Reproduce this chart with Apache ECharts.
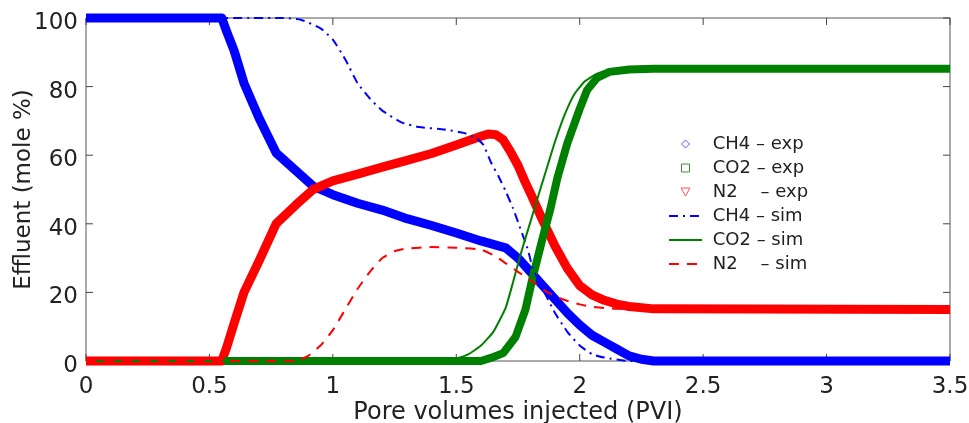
<!DOCTYPE html>
<html>
<head>
<meta charset="utf-8">
<script src="https://cdn.jsdelivr.net/npm/echarts@6/dist/echarts.min.js"></script>
<style>
html,body{margin:0;padding:0;background:#fff;}
#chart{width:969px;height:423px;}
</style>
</head>
<body>
<div id="chart"></div>
<script>
// ---- data ----
const xTicks = [0, 0.5, 1, 1.5, 2, 2.5, 3, 3.5];
const yTicks = [0, 20, 40, 60, 80, 100];

const seriesNames = ['CH4 – exp', 'CO2 – exp', 'N2    – exp', 'CH4 – sim', 'CO2 – sim', 'N2    – sim'];

const ch4ExpX = [0, 0.55, 0.57, 0.6, 0.64, 0.7, 0.77, 0.85, 0.92, 1.0, 1.1, 1.2, 1.3, 1.4, 1.5, 1.6, 1.7, 1.75, 1.8, 1.85, 1.9, 1.95, 2.0, 2.05, 2.1, 2.15, 2.2, 2.25, 2.3, 3.5];
const ch4ExpY = [100, 100, 96, 90.5, 81, 71, 60.7, 55.5, 51, 48.5, 46, 44, 41.5, 39.5, 37.3, 35, 33, 30, 26, 22, 18, 14, 10.5, 7.5, 5.5, 3.5, 1.5, 0.5, 0, 0];

const n2ExpX = [0, 0.55, 0.57, 0.6, 0.64, 0.7, 0.77, 0.85, 0.92, 1.0, 1.1, 1.2, 1.3, 1.4, 1.5, 1.6, 1.63, 1.66, 1.69, 1.72, 1.75, 1.78, 1.8, 1.85, 1.9, 1.95, 2.0, 2.05, 2.1, 2.15, 2.2, 2.3, 3.5];
const n2ExpY = [0, 0, 4, 11, 20, 29, 40, 45.5, 50, 52.5, 54.5, 56.5, 58.5, 60.5, 63, 65.5, 66.2, 66, 64.5, 61, 57, 52, 49, 41, 33.5, 27, 22, 19.3, 17.7, 16.6, 15.9, 15.2, 15];

const co2ExpX = [0.56, 1.6, 1.64, 1.69, 1.74, 1.78, 1.81, 1.845, 1.88, 1.91, 1.95, 2.0, 2.03, 2.07, 2.12, 2.2, 2.3, 3.5];
const co2ExpY = [0, 0, 0.9, 2.3, 7, 15, 24.5, 34.5, 44, 53.5, 63.5, 73.5, 79, 82.5, 84.3, 85, 85.2, 85.2];

const ch4SimX = [0, 0.8, 0.87, 0.95, 1.0, 1.05, 1.1, 1.15, 1.2, 1.28, 1.35, 1.45, 1.53, 1.58, 1.61, 1.64, 1.67, 1.7, 1.73, 1.76, 1.79, 1.81, 1.85, 1.9, 1.95, 2.0, 2.05, 2.1, 2.2, 3.5];
const ch4SimY = [100, 100, 99.5, 97, 93.7, 88, 81, 76.5, 73, 69.5, 68.2, 67.5, 66.5, 65, 63, 58, 54, 49.5, 44.5, 38.5, 32.5, 27, 21, 14, 8.5, 4.5, 2, 1, 0, 0];

const co2SimX = [0, 1.45, 1.5, 1.55, 1.6, 1.65, 1.7, 1.73, 1.76, 1.8, 1.84, 1.87, 1.9, 1.94, 1.98, 2.02, 2.07, 2.12, 2.2, 3.5];
const co2SimY = [0, 0, 0.7, 2, 4.5, 8.5, 15.5, 23, 31, 40.5, 50, 57, 64, 72, 78, 81.5, 83.8, 84.8, 85.3, 85.3];

const n2SimX = [0, 0.85, 0.9, 0.95, 1.0, 1.05, 1.1, 1.15, 1.2, 1.25, 1.3, 1.4, 1.5, 1.6, 1.66, 1.7, 1.75, 1.8, 1.87, 1.93, 2.0, 2.05, 2.15, 2.3, 3.5];
const n2SimY = [0, 0, 1.5, 4.5, 9, 15, 21, 26, 30, 32, 32.8, 33.2, 33, 32.5, 30.5, 28.5, 26, 23.6, 20, 18, 16.5, 15.8, 15.2, 15, 15];

const zip = (xs, ys) => xs.map((x, i) => [x, ys[i]]);

const BLUE = '#0000ff', GREEN = '#008000', RED = '#ff0000';
const FONT = 'DejaVu Sans';
const AXIS_COLOR = '#555';
const TICK_COLOR = '#444';
const TICK_LEN = 7;
const X_MIN = 0, X_MAX = 3.5, Y_MIN = 0, Y_MAX = 100;

const chart = echarts.init(document.getElementById('chart'));

function expSeries(name, data, color, width) {
  return {
    name, type: 'line', data, symbol: 'none', clip: false, smooth: false,
    lineStyle: {color, width, cap: 'butt', join: 'round'},
    itemStyle: {color},
    z: 2
  };
}
function simSeries(name, data, color, width, dash) {
  return {
    name, type: 'line', data, symbol: 'none', clip: false, smooth: 0.15,
    lineStyle: {color, width, type: dash},
    itemStyle: {color},
    z: 3
  };
}
// inside tick marks on all four sides of the box, placed through the axes' scales
function tickLine(x1, y1, x2, y2) {
  return {type: 'line', shape: {x1, y1, x2, y2}, style: {stroke: TICK_COLOR, lineWidth: 1}};
}
const xTickSeries = {
  type: 'custom', silent: true, z: 1, clip: false,
  data: xTicks.map(v => [v, Y_MIN]),
  renderItem: (params, api) => {
    const b = api.coord([api.value(0), Y_MIN]);
    const t = api.coord([api.value(0), Y_MAX]);
    return {type: 'group', children: [
      tickLine(b[0], b[1], b[0], b[1] - TICK_LEN),
      tickLine(t[0], t[1], t[0], t[1] + TICK_LEN)
    ]};
  }
};
const yTickSeries = {
  type: 'custom', silent: true, z: 1, clip: false,
  data: yTicks.map(v => [X_MIN, v]),
  renderItem: (params, api) => {
    const l = api.coord([X_MIN, api.value(1)]);
    const r = api.coord([X_MAX, api.value(1)]);
    return {type: 'group', children: [
      tickLine(l[0], l[1], l[0] + TICK_LEN, l[1]),
      tickLine(r[0], r[1], r[0] - TICK_LEN, r[1])
    ]};
  }
};

const hiddenMarker = {color: 'rgba(0,0,0,0)', borderColor: 'rgba(0,0,0,0)', borderWidth: 0, opacity: 0};

chart.setOption({
  animation: false,
  textStyle: {fontFamily: FONT},
  grid: {left: 86, right: 19, top: 18, bottom: 62, outerBoundsMode: 'none',
         show: true, borderColor: AXIS_COLOR, borderWidth: 1, backgroundColor: 'rgba(0,0,0,0)'},
  legend: {
    orient: 'vertical', left: 663, top: 130,
    itemWidth: 33, itemHeight: 8, itemGap: 6,
    textStyle: {fontFamily: FONT, fontSize: 18, color: '#222'},
    formatter: name => ' ' + name,
    selectedMode: false,
    data: [
      {name: seriesNames[0], icon: 'path://M5,0L10,5L5,10L0,5Z', itemStyle: {color: '#fff', borderColor: '#5555ff', borderWidth: 1}},
      {name: seriesNames[1], icon: 'path://M0,0L10,0L10,10L0,10Z', itemStyle: {color: '#fff', borderColor: '#339933', borderWidth: 1}},
      {name: seriesNames[2], icon: 'path://M0,0L10,0L5,9Z', itemStyle: {color: '#fff', borderColor: '#ff5555', borderWidth: 1}},
      {name: seriesNames[3], itemStyle: hiddenMarker},
      {name: seriesNames[4], itemStyle: hiddenMarker},
      {name: seriesNames[5], itemStyle: hiddenMarker}
    ]
  },
  xAxis: {
    type: 'value', position: 'bottom', min: X_MIN, max: X_MAX, interval: 0.5,
    axisLine: {show: false}, axisTick: {show: false}, splitLine: {show: false},
    axisLabel: {fontFamily: FONT, fontSize: 23, color: '#222', margin: 15},
    name: 'Pore volumes injected (PVI)', nameLocation: 'middle', nameGap: 40, nameMoveOverlap: false,
    nameTextStyle: {fontFamily: FONT, fontSize: 24, color: '#222'}
  },
  yAxis: {
    type: 'value', position: 'left', min: Y_MIN, max: Y_MAX, interval: 20,
    axisLine: {show: false}, axisTick: {show: false}, splitLine: {show: false},
    axisLabel: {fontFamily: FONT, fontSize: 23, color: '#222', margin: 8, verticalAlign: 'top', lineHeight: 10},
    name: 'Effluent (mole %)', nameLocation: 'middle', nameGap: 50, nameMoveOverlap: false,
    nameTextStyle: {fontFamily: FONT, fontSize: 23, color: '#222'}
  },
  series: [
    xTickSeries,
    yTickSeries,
    expSeries(seriesNames[0], zip(ch4ExpX, ch4ExpY), BLUE, 9),
    expSeries(seriesNames[2], zip(n2ExpX, n2ExpY), RED, 9),
    expSeries(seriesNames[1], zip(co2ExpX, co2ExpY), GREEN, 8),
    simSeries(seriesNames[3], zip(ch4SimX, ch4SimY), BLUE, 2, [9, 5, 2, 5]),
    simSeries(seriesNames[4], zip(co2SimX, co2SimY), GREEN, 2, 'solid'),
    simSeries(seriesNames[5], zip(n2SimX, n2SimY), RED, 2, [10, 8])
  ]
});
</script>
</body>
</html>
